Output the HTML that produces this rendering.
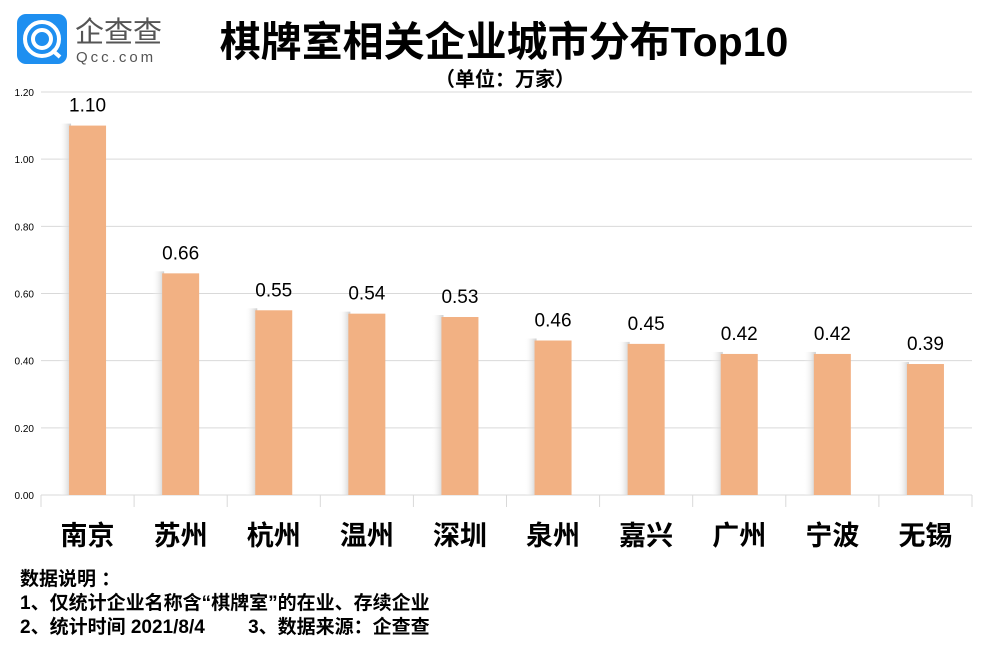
<!DOCTYPE html>
<html><head><meta charset="utf-8"><style>
body{margin:0;background:#fff;width:984px;height:645px;overflow:hidden;font-family:"Liberation Sans","Noto Sans CJK SC",sans-serif;}
</style></head><body>
<svg width="984" height="645" font-family="Liberation Sans, Noto Sans CJK SC, sans-serif">
<defs><linearGradient id="sh" x1="0" x2="1"><stop offset="0" stop-color="#fff" stop-opacity="0"/><stop offset="1" stop-color="#ccc"/></linearGradient></defs>
<g>
<rect x="17" y="14" width="50" height="50" rx="9" fill="#1e8ff0"/>
<circle cx="42" cy="39" r="17" fill="none" stroke="#fff" stroke-width="4"/>
<circle cx="42" cy="39" r="9" fill="none" stroke="#fff" stroke-width="4"/>
<line x1="52" y1="50" x2="60" y2="57" stroke="#fff" stroke-width="4"/>
<text x="75" y="42" font-size="29" fill="#555" font-family="Noto Sans CJK SC, sans-serif">企查查</text>
<text x="76" y="62" font-size="15" fill="#555" letter-spacing="3">Qcc.com</text>
</g>
<text x="504" y="56" text-anchor="middle" font-size="41" font-weight="bold" fill="#000">棋牌室相关企业城市分布Top10</text>
<text x="505" y="86" text-anchor="middle" font-size="20" font-weight="bold" fill="#000">（单位：万家）</text>
<g id="grid"></g><g id="bars"></g><g id="xax"></g>
<g font-size="19" font-weight="bold" fill="#000">
<text x="20" y="585">数据说明 ：</text>
<text x="20" y="609">1、仅统计企业名称含“棋牌室”的在业、存续企业</text>
<text x="20" y="633">2、统计时间 2021/8/4　　 3、数据来源：企查查</text>
</g>
</svg>
<script>
const categories=["南京","苏州","杭州","温州","深圳","泉州","嘉兴","广州","宁波","无锡"];
const values=[1.10,0.66,0.55,0.54,0.53,0.46,0.45,0.42,0.42,0.39];
const valueLabels=["1.10","0.66","0.55","0.54","0.53","0.46","0.45","0.42","0.42","0.39"];
const ticks=[0,0.2,0.4,0.6,0.8,1.0,1.2];
const NS="http://www.w3.org/2000/svg";
const x0=41,x1=972,y0=495,y1=92,ymax=1.2;
const y=v=>y0-(v/ymax)*(y0-y1);
const bw=(x1-x0)/categories.length;
const xc=i=>x0+bw*(i+0.5);
function mk(t,a,p){const e=document.createElementNS(NS,t);for(const k in a)e.setAttribute(k,a[k]);p.appendChild(e);return e;}
const g=document.getElementById('grid'),b=document.getElementById('bars'),xa=document.getElementById('xax');
ticks.forEach(t=>{
 const l=mk('line',{x1:x0,x2:x1,y1:y(t),y2:y(t),stroke:'#d9d9d9'},g);
 
 
 const tx=mk('text',{x:34,y:y(t)+4,'text-anchor':'end','font-size':10,fill:'#000'},g);
 tx.textContent=t.toFixed(2);
 
 
});
for(let i=0;i<=categories.length;i++){
 const l=mk('line',{x1:x0+bw*i,x2:x0+bw*i,y1:y0,y2:y0+12,stroke:'#d9d9d9'},xa);
 
 
}
categories.forEach((c,i)=>{
 const cx=xc(i),w=37;
 mk('rect',{x:cx-w/2-10,y:y(values[i])-2,width:12,height:y0-y(values[i])+2,fill:'url(#sh)'},b);
 const r=mk('rect',{x:cx-w/2,y:y(values[i]),width:w,height:y0-y(values[i]),fill:'#f2b183'},b);
 
 
 const v=mk('text',{x:cx,y:y(values[i])-14,'text-anchor':'middle','font-size':19,fill:'#000'},b);
 v.textContent=valueLabels[i];
 
 
 const cl=mk('text',{x:cx,y:545,'text-anchor':'middle','font-size':27,'font-weight':'bold',fill:'#000'},xa);
 cl.textContent=c;
 
 
});
</script>
</body></html>
